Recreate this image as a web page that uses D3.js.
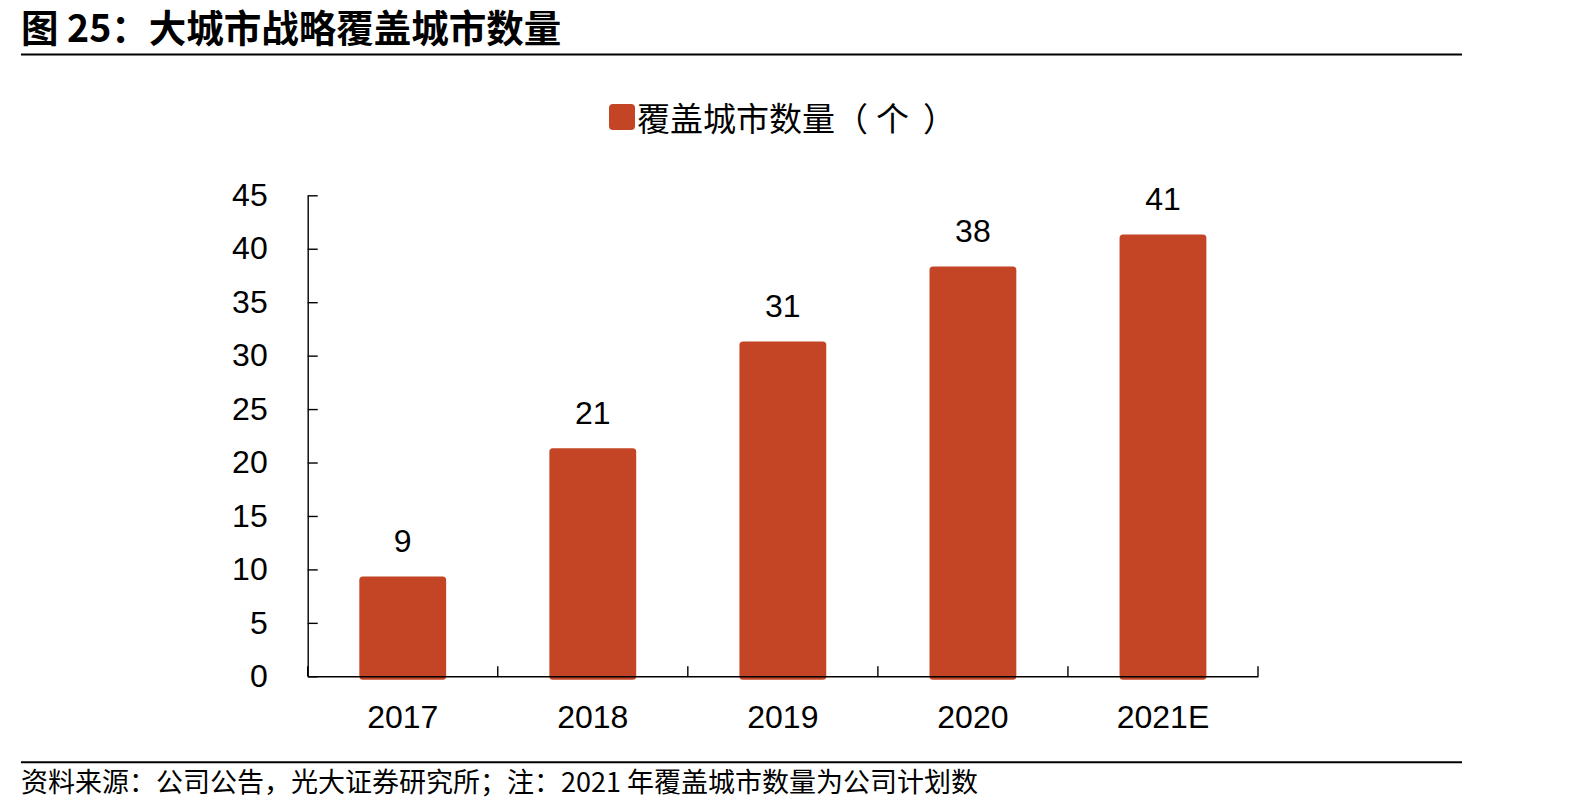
<!DOCTYPE html>
<html>
<head>
<meta charset="utf-8">
<script src="https://cdn.jsdelivr.net/npm/d3@7"></script>
<style>
  body { margin: 0; background: #fff; }
  svg { display: block; }
</style>
</head>
<body>
<svg id="chart" width="1594" height="810"></svg>
<script>
// données
const years = ['2017', '2018', '2019', '2020', '2021E'];
const cities = [9, 21, 31, 38, 41];
const yTicks = [0, 5, 10, 15, 20, 25, 30, 35, 40, 45];

const cjk = '"Noto Sans CJK SC", "Noto Sans", sans-serif';
const latin = '"Liberation Sans", Arial, sans-serif';
const barColor = '#C44426';

const svg = d3.select('#chart');

// titre
svg.append('text')
    .attr('x', 21)
    .attr('y', 42)
    .attr('font-family', cjk)
    .attr('font-weight', 'bold')
    .attr('font-size', 37.5)
    .attr('fill', '#000')
    .text('图 25：大城市战略覆盖城市数量');

svg.append('line')
    .attr('x1', 21).attr('x2', 1462)
    .attr('y1', 54.5).attr('y2', 54.5)
    .attr('stroke', '#000').attr('stroke-width', 2.2);

// légende
const legend = svg.append('g');
legend.append('rect')
    .attr('x', 609).attr('y', 104)
    .attr('width', 26).attr('height', 26)
    .attr('rx', 4)
    .attr('fill', barColor);
const legendText = legend.append('text')
    .attr('x', 637)
    .attr('y', 131)
    .attr('font-family', cjk)
    .attr('font-size', 33)
    .attr('fill', '#000');
legendText.append('tspan').text('覆盖城市数量（');
legendText.append('tspan').attr('dx', 8).text('个');
legendText.append('tspan').attr('dx', 14).text('）');

// échelles
const x = d3.scaleBand()
    .domain(years)
    .range([307.7, 1258])
    .paddingInner(0.58)
    .paddingOuter(0.29);

const y = d3.scaleLinear()
    .domain([0, 45])
    .range([676.3, 195.3]);

// barres
const bars = svg.append('g');
bars.selectAll('rect')
    .data(years)
    .enter()
    .append('rect')
    .attr('x', d => x(d))
    .attr('y', (d, i) => y(cities[i]))
    .attr('width', x.bandwidth())
    .attr('height', (d, i) => y(0) - y(cities[i]))
    .attr('fill', barColor)
    .attr('stroke', barColor)
    .attr('stroke-width', 7)
    .attr('stroke-linejoin', 'round');

// étiquettes des barres
bars.selectAll('text')
    .data(years)
    .enter()
    .append('text')
    .attr('x', d => x(d) + x.bandwidth() / 2)
    .attr('y', (d, i) => y(cities[i]) - 28)
    .attr('text-anchor', 'middle')
    .attr('font-family', latin)
    .attr('font-size', 32)
    .attr('fill', '#000')
    .text((d, i) => cities[i]);

// axe Y
const yAxis = svg.append('g')
    .attr('transform', 'translate(307.7,0)')
    .call(d3.axisLeft(y)
        .tickValues(yTicks)
        .tickSizeInner(-10)
        .tickSizeOuter(0)
        .tickPadding(40));
yAxis.select('.domain').attr('stroke', '#000').attr('stroke-width', 1.4);
yAxis.selectAll('.tick line').attr('stroke', '#000').attr('stroke-width', 1.4);
yAxis.selectAll('.tick text')
    .attr('font-family', latin)
    .attr('font-size', 32)
    .attr('fill', '#000');

// axe X
const xAxis = svg.append('g')
    .attr('transform', 'translate(0,' + y(0) + ')')
    .call(d3.axisBottom(x).tickSize(0).tickSizeOuter(0));
xAxis.select('.domain').attr('stroke', '#000').attr('stroke-width', 1.4);
xAxis.selectAll('.tick text')
    .attr('y', 52)
    .attr('dy', 0)
    .attr('font-family', latin)
    .attr('font-size', 32)
    .attr('fill', '#000');

// graduations entre les catégories
const gap = (x.step() - x.bandwidth()) / 2;
const bounds = years.map(d => x(d) - gap).concat([x(years[years.length - 1]) + x.bandwidth() + gap]);
xAxis.selectAll('.bound')
    .data(bounds)
    .enter()
    .append('line')
    .attr('class', 'bound')
    .attr('x1', d => d).attr('x2', d => d)
    .attr('y1', 0).attr('y2', -10)
    .attr('stroke', '#000')
    .attr('stroke-width', 1.4);

// source
svg.append('line')
    .attr('x1', 21).attr('x2', 1462)
    .attr('y1', 762.3).attr('y2', 762.3)
    .attr('stroke', '#000').attr('stroke-width', 2);

svg.append('text')
    .attr('x', 21)
    .attr('y', 792)
    .attr('font-family', cjk)
    .attr('font-size', 27)
    .attr('fill', '#000')
    .text('资料来源：公司公告，光大证券研究所；注：2021 年覆盖城市数量为公司计划数');
</script>
</body>
</html>
